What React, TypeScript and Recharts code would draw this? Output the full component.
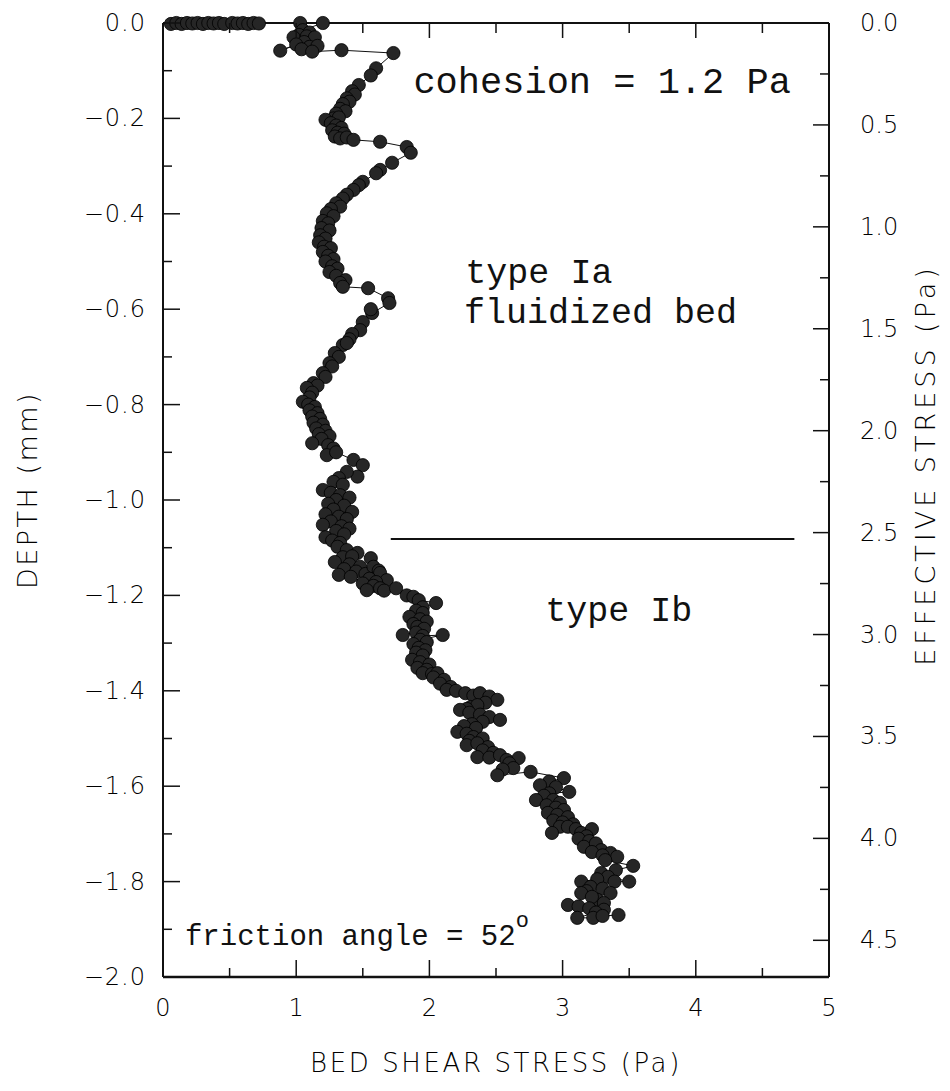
import React from "react";
import {
  ScatterChart,
  Scatter,
  XAxis,
  YAxis,
  ReferenceLine,
  ReferenceDot,
} from "recharts";

// [bed shear stress (Pa), depth (mm)] in profile order
const surfaceLayer: [number, number][] = [
  [0.06, -0.002], [0.1, 0], [0.14, -0.002], [0.18, 0], [0.22, -0.001],
  [0.26, 0], [0.3, -0.002], [0.34, 0], [0.38, -0.001], [0.42, 0],
  [0.46, -0.002], [0.52, 0], [0.56, -0.001], [0.6, 0], [0.64, -0.002],
  [0.68, 0], [0.72, -0.001], [1.03, 0], [1.2, 0], [1.05, -0.015],
  [1.1, -0.02], [1.02, -0.025], [0.98, -0.03], [1.08, -0.028], [1.14, -0.03],
  [1.06, -0.04], [0.88, -0.058], [1.0, -0.045], [1.1, -0.05], [1.16, -0.048],
  [1.04, -0.055], [1.12, -0.06], [1.34, -0.057], [1.73, -0.063],
];

const upperTypeIa: [number, number][] = [
  [1.6, -0.095], [1.56, -0.11], [1.47, -0.13], [1.42, -0.143], [1.44, -0.15],
  [1.38, -0.158], [1.4, -0.165], [1.35, -0.17], [1.33, -0.18], [1.37, -0.185],
  [1.3, -0.19], [1.28, -0.2], [1.22, -0.203], [1.32, -0.198], [1.26, -0.21],
  [1.3, -0.215], [1.34, -0.22], [1.27, -0.225], [1.31, -0.23], [1.36, -0.232],
  [1.29, -0.238], [1.33, -0.242], [1.38, -0.24], [1.43, -0.245], [1.63, -0.249],
  [1.83, -0.26], [1.86, -0.272], [1.72, -0.293], [1.63, -0.308], [1.6, -0.315],
  [1.5, -0.333], [1.47, -0.34], [1.43, -0.35], [1.38, -0.36], [1.35, -0.368],
  [1.3, -0.378], [1.33, -0.385], [1.26, -0.39], [1.23, -0.399], [1.28, -0.405],
  [1.2, -0.415], [1.24, -0.42], [1.19, -0.43], [1.25, -0.435], [1.18, -0.445],
  [1.22, -0.452], [1.17, -0.46], [1.21, -0.469], [1.26, -0.472], [1.2, -0.48],
  [1.24, -0.488], [1.28, -0.495], [1.22, -0.5], [1.27, -0.51], [1.31, -0.515],
  [1.25, -0.522], [1.3, -0.53], [1.37, -0.539], [1.33, -0.545], [1.35, -0.553],
  [1.54, -0.556], [1.69, -0.577], [1.7, -0.587],
];

const lowerTypeIa: [number, number][] = [
  [1.57, -0.608], [1.56, -0.6], [1.5, -0.627], [1.48, -0.644], [1.42, -0.652],
  [1.4, -0.663], [1.35, -0.675], [1.38, -0.671], [1.29, -0.692], [1.32, -0.7],
  [1.25, -0.713], [1.27, -0.72], [1.2, -0.734], [1.22, -0.742], [1.13, -0.755],
  [1.16, -0.76], [1.08, -0.765], [1.12, -0.775], [1.1, -0.785], [1.05, -0.794],
  [1.09, -0.8], [1.14, -0.805], [1.1, -0.812], [1.16, -0.818], [1.12, -0.825],
  [1.18, -0.83], [1.13, -0.838], [1.2, -0.842], [1.15, -0.85], [1.22, -0.855],
  [1.17, -0.862], [1.25, -0.866], [1.19, -0.872], [1.12, -0.881], [1.24, -0.885],
  [1.28, -0.892], [1.23, -0.906], [1.3, -0.9], [1.43, -0.916], [1.5, -0.927],
  [1.46, -0.951], [1.38, -0.941], [1.32, -0.954], [1.28, -0.962], [1.35, -0.968],
  [1.2, -0.979], [1.26, -0.985], [1.33, -0.99], [1.4, -0.995], [1.3, -1.0],
  [1.24, -1.008], [1.36, -1.012], [1.28, -1.02], [1.42, -1.025], [1.22, -1.03],
  [1.32, -1.035], [1.38, -1.04], [1.26, -1.045], [1.2, -1.052], [1.34, -1.055],
  [1.4, -1.06], [1.3, -1.065], [1.36, -1.072], [1.22, -1.078], [1.27, -1.085],
  [1.33, -1.09], [1.31, -1.098], [1.38, -1.105], [1.35, -1.12], [1.46, -1.111],
  [1.42, -1.118], [1.29, -1.13], [1.4, -1.135], [1.48, -1.14], [1.36, -1.145],
  [1.32, -1.157], [1.45, -1.15], [1.52, -1.155], [1.56, -1.122], [1.58, -1.14],
  [1.62, -1.148], [1.63, -1.153], [1.55, -1.165], [1.68, -1.168], [1.6, -1.172],
  [1.5, -1.175], [1.41, -1.161], [1.58, -1.18], [1.63, -1.185], [1.53, -1.189],
  [1.66, -1.19],
];

const typeIb: [number, number][] = [
  [1.75, -1.185], [1.83, -1.2], [1.88, -1.203], [1.92, -1.21], [2.05, -1.216],
  [1.95, -1.225], [1.9, -1.232], [1.95, -1.237], [1.85, -1.245], [1.93, -1.25],
  [1.98, -1.255], [1.88, -1.26], [1.91, -1.266], [1.96, -1.27], [1.8, -1.283],
  [1.9, -1.278], [1.95, -1.285], [2.1, -1.283], [1.93, -1.293], [1.98, -1.298],
  [1.88, -1.302], [1.92, -1.31], [1.97, -1.315], [1.9, -1.32], [1.95, -1.326],
  [1.87, -1.335], [1.93, -1.34], [2.0, -1.345], [1.91, -1.352], [1.98, -1.356],
  [1.95, -1.363], [2.02, -1.365], [2.06, -1.363], [2.03, -1.372], [2.11, -1.377],
  [2.08, -1.385], [2.16, -1.392], [2.13, -1.398], [2.2, -1.4], [2.27, -1.405],
  [2.33, -1.41], [2.38, -1.405], [2.45, -1.412], [2.51, -1.419], [2.42, -1.425],
  [2.31, -1.434], [2.36, -1.43], [2.28, -1.438], [2.23, -1.44], [2.3, -1.446],
  [2.38, -1.45], [2.45, -1.455], [2.53, -1.461], [2.4, -1.465], [2.32, -1.47],
  [2.26, -1.474], [2.35, -1.478], [2.21, -1.486], [2.28, -1.49], [2.33, -1.497],
  [2.4, -1.5], [2.3, -1.505], [2.28, -1.514], [2.36, -1.51], [2.44, -1.518],
  [2.4, -1.525], [2.48, -1.53], [2.36, -1.539], [2.45, -1.54], [2.53, -1.535],
  [2.58, -1.545], [2.67, -1.541], [2.6, -1.552], [2.63, -1.562], [2.55, -1.565],
  [2.51, -1.577], [2.76, -1.57], [3.01, -1.583],
];

const deepTypeIb: [number, number][] = [
  [2.9, -1.59], [2.83, -1.598], [2.95, -1.602], [3.05, -1.612], [2.9, -1.615],
  [2.86, -1.62], [2.8, -1.629], [2.93, -1.629], [2.98, -1.635], [2.88, -1.64],
  [2.95, -1.645], [3.01, -1.65], [2.89, -1.656], [2.96, -1.66], [3.04, -1.665],
  [2.93, -1.672], [3.0, -1.676], [3.08, -1.68], [2.98, -1.685], [3.04, -1.685],
  [2.92, -1.698], [3.1, -1.69], [3.14, -1.698], [3.22, -1.69], [3.18, -1.705],
  [3.12, -1.71], [3.2, -1.715], [3.16, -1.727], [3.25, -1.72], [3.29, -1.734],
  [3.22, -1.738], [3.36, -1.74], [3.3, -1.745], [3.41, -1.748], [3.32, -1.755],
  [3.53, -1.767], [3.4, -1.776], [3.29, -1.782], [3.34, -1.79], [3.5, -1.8],
  [3.39, -1.8], [3.26, -1.795], [3.14, -1.8], [3.21, -1.811], [3.3, -1.815],
  [3.36, -1.824], [3.18, -1.82], [3.14, -1.824], [3.26, -1.838], [3.22, -1.832],
  [3.31, -1.845], [3.04, -1.849], [3.12, -1.852], [3.2, -1.856], [3.31, -1.859],
  [3.25, -1.865], [3.11, -1.876], [3.23, -1.876], [3.3, -1.872], [3.42, -1.87],
];

// axis ticks
const shearMajor = [0, 1, 2, 3, 4, 5];
const shearLabels = ["0", "1", "2", "3", "4", "5"];
const shearMinor = [0.5, 1.5, 2.5, 3.5, 4.5];

const depthMajor = [0, -0.2, -0.4, -0.6, -0.8, -1.0, -1.2, -1.4, -1.6, -1.8, -2.0];
const depthLabels = ["0.0", "−0.2", "−0.4", "−0.6", "−0.8", "−1.0", "−1.2", "−1.4", "−1.6", "−1.8", "−2.0"];
const depthMinor = [-0.1, -0.3, -0.5, -0.7, -0.9, -1.1, -1.3, -1.5, -1.7, -1.9];

const stressMajor = [0, 0.5, 1, 1.5, 2, 2.5, 3, 3.5, 4, 4.5];
const stressLabels = ["0.0", "0.5", "1.0", "1.5", "2.0", "2.5", "3.0", "3.5", "4.0", "4.5"];
const stressMinor = [0.25, 0.75, 1.25, 1.75, 2.25, 2.75, 3.25, 3.75, 4.25];
// effective stress at the top and bottom of the plotted depth range
const stressExtent = [0, 4.68];

// type Ia / type Ib boundary
const boundaryDepth = -1.082;
const boundaryShear = [1.71, 4.74];

const points = [...surfaceLayer, ...upperTypeIa, ...lowerTypeIa, ...typeIb, ...deepTypeIb].map(
  ([shear, depth]) => ({ shear, depth })
);
const stressRange = stressExtent.map((stress) => ({ shear: 0, stress }));

const INK = "#111";
const SANS = "'DejaVu Sans', sans-serif";
const MONO = "'Liberation Mono', monospace";

const tickText = { fontFamily: SANS, fontSize: 24, fontWeight: 200, fill: "#000" };

function BottomTick({ x, y, payload }: any) {
  const i = shearMajor.indexOf(payload.value);
  const len = i >= 0 ? 17 : 9;
  return (
    <g>
      <line x1={x} y1={y} x2={x} y2={y - len} stroke={INK} strokeWidth={1.5} />
      {i >= 0 && (
        <text x={x} y={y + 31} textAnchor="middle" dominantBaseline="central" {...tickText}>
          {shearLabels[i]}
        </text>
      )}
    </g>
  );
}

function TopTick({ x, y, payload }: any) {
  const len = shearMajor.includes(payload.value) ? 15 : 10;
  return <line x1={x} y1={y} x2={x} y2={y + len} stroke={INK} strokeWidth={1.5} />;
}

function LeftTick({ x, y, payload }: any) {
  const i = depthMajor.indexOf(payload.value);
  const len = i >= 0 ? 17 : 9;
  return (
    <g>
      <line x1={x} y1={y} x2={x + len} y2={y} stroke={INK} strokeWidth={1.5} />
      {i >= 0 && (
        <text x={x - 17} y={y} textAnchor="end" dominantBaseline="central" letterSpacing={1} {...tickText}>
          {depthLabels[i]}
        </text>
      )}
    </g>
  );
}

function RightTick({ x, y, payload }: any) {
  const i = stressMajor.indexOf(payload.value);
  const len = i >= 0 ? 16 : 9;
  return (
    <g>
      <line x1={x} y1={y} x2={x - len} y2={y} stroke={INK} strokeWidth={1.5} />
      {i >= 0 && (
        <text x={x + 31} y={y} textAnchor="start" dominantBaseline="central" {...tickText}>
          {stressLabels[i]}
        </text>
      )}
    </g>
  );
}

function Dot({ cx, cy }: any) {
  return <circle cx={cx} cy={cy} r={6.6} fill="#262626" stroke="#000" strokeWidth={0.8} />;
}

function Note(text: string, size: number, extra?: React.ReactNode) {
  return ({ cx, cy }: any) => (
    <text x={cx} y={cy} dominantBaseline="central" fontFamily={MONO} fontSize={size} fill={INK}>
      {text}
      {extra}
    </text>
  );
}

const axisLine = { stroke: INK, strokeWidth: 2 };

export default function App() {
  return (
    <div style={{ position: "absolute", left: 0, top: 0, background: "#fff" }}>
      <ScatterChart width={950} height={1091} margin={{ top: 22, right: 21, bottom: 14, left: 53 }}>
        <XAxis
          xAxisId="bottom"
          dataKey="shear"
          type="number"
          domain={[0, 5]}
          ticks={[...shearMajor, ...shearMinor]}
          interval={0}
          height={100}
          tickSize={0}
          tickMargin={0}
          tickLine={false}
          axisLine={{ stroke: INK, strokeWidth: 2.5 }}
          tick={<BottomTick />}
          label={({ viewBox }: any) => (
            <text
              x={viewBox.x + viewBox.width / 2}
              y={1063}
              textAnchor="middle"
              dominantBaseline="central"
              fontFamily={SANS}
              fontSize={26}
              fontWeight={200}
              letterSpacing={2.6}
              fill="#000"
            >
              BED SHEAR STRESS (Pa)
            </text>
          )}
        />
        <XAxis
          xAxisId="top"
          orientation="top"
          dataKey="shear"
          type="number"
          domain={[0, 5]}
          ticks={[...shearMajor, ...shearMinor]}
          interval={0}
          height={1}
          tickSize={0}
          tickMargin={0}
          tickLine={false}
          axisLine={axisLine}
          tick={<TopTick />}
        />
        <YAxis
          yAxisId="left"
          dataKey="depth"
          type="number"
          domain={[-2, 0]}
          ticks={[...depthMajor, ...depthMinor]}
          interval={0}
          width={110}
          tickSize={0}
          tickMargin={0}
          tickLine={false}
          axisLine={axisLine}
          tick={<LeftTick />}
          label={({ viewBox }: any) => (
            <text
              x={27}
              y={viewBox.y + viewBox.height / 2 - 10}
              textAnchor="middle"
              dominantBaseline="central"
              transform={`rotate(-90 27 ${viewBox.y + viewBox.height / 2 - 10})`}
              fontFamily={SANS}
              fontSize={27}
              fontWeight={200}
              letterSpacing={2.5}
              fill="#000"
            >
              DEPTH (mm)
            </text>
          )}
        />
        <YAxis
          yAxisId="right"
          orientation="right"
          dataKey="stress"
          type="number"
          domain={[0, 4.68]}
          allowDataOverflow
          reversed
          ticks={[...stressMajor, ...stressMinor]}
          interval={0}
          width={100}
          tickSize={0}
          tickMargin={0}
          tickLine={false}
          axisLine={axisLine}
          tick={<RightTick />}
          label={({ viewBox }: any) => (
            <text
              x={925}
              y={viewBox.y + viewBox.height / 2 - 35}
              textAnchor="middle"
              dominantBaseline="central"
              transform={`rotate(-90 925 ${viewBox.y + viewBox.height / 2 - 35})`}
              fontFamily={SANS}
              fontSize={27}
              fontWeight={200}
              letterSpacing={4}
              fill="#000"
            >
              EFFECTIVE STRESS (Pa)
            </text>
          )}
        />
        <ReferenceLine
          xAxisId="bottom"
          yAxisId="left"
          segment={[
            { x: boundaryShear[0], y: boundaryDepth },
            { x: boundaryShear[1], y: boundaryDepth },
          ]}
          stroke={INK}
          strokeWidth={2}
        />
        <Scatter
          xAxisId="top"
          yAxisId="right"
          data={stressRange}
          shape={() => <g />}
          isAnimationActive={false}
        />
        <Scatter
          xAxisId="bottom"
          yAxisId="left"
          data={points}
          line={{ stroke: INK, strokeWidth: 1 }}
          shape={<Dot />}
          isAnimationActive={false}
        />
        <ReferenceDot xAxisId="bottom" yAxisId="left" x={1.88} y={-0.126} r={0} shape={Note("cohesion = 1.2 Pa", 37)} />
        <ReferenceDot xAxisId="bottom" yAxisId="left" x={2.27} y={-0.527} r={0} shape={Note("type Ia", 35)} />
        <ReferenceDot xAxisId="bottom" yAxisId="left" x={2.26} y={-0.61} r={0} shape={Note("fluidized bed", 35)} />
        <ReferenceDot xAxisId="bottom" yAxisId="left" x={2.87} y={-1.235} r={0} shape={Note("type Ib", 35)} />
        <ReferenceDot
          xAxisId="bottom"
          yAxisId="left"
          x={0.165}
          y={-1.918}
          r={0}
          shape={Note(
            "friction angle = 52",
            29,
            <tspan dy={-17} fontSize={22}>o</tspan>
          )}
        />
      </ScatterChart>
    </div>
  );
}
